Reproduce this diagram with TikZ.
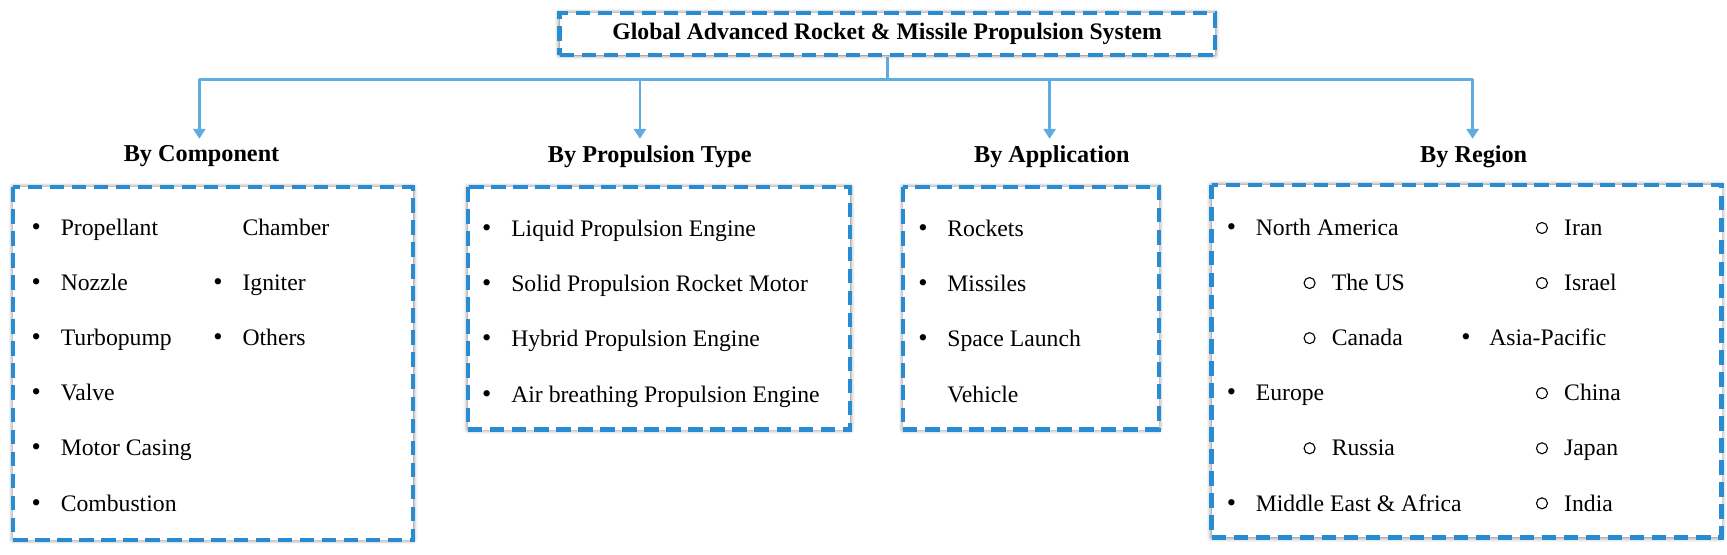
\documentclass[tikz,border=0pt]{standalone}
\usepackage{fontspec}
\setmainfont{Liberation Serif}
\usetikzlibrary{shadows.blur,arrows.meta}
\definecolor{dblue}{RGB}{40,140,210}
\definecolor{lblue}{RGB}{95,172,225}
\tikzset{
 dbox/.style={draw=dblue,line width=3.8pt,dash pattern=on 13pt off 7pt,fill=white,
   blur shadow={shadow xshift=0pt,shadow yshift=0pt,shadow blur radius=4pt,shadow opacity=60}},
 conn/.style={lblue,line width=2.5pt},
 arr/.style={conn,-{Triangle[length=9pt,width=11pt]}},
 head/.style={font=\fontsize{22}{24}\selectfont\bfseries,anchor=center},
 itm/.style={font=\fontsize{21.5}{24}\selectfont,anchor=base west,inner sep=0pt},
 bul/.style={font=\fontsize{24}{26}\selectfont,anchor=base},
}
\newcommand{\bu}{\textbullet}
\newcommand{\ci}{\raisebox{1.5pt}{\tikz\draw[line width=1pt] (0,0) circle (5pt);}}
\begin{document}
\begin{tikzpicture}[x=1pt,y=-1pt]
\useasboundingbox (0,0) rectangle (1568,503);
\node[dbox,minimum width=595pt,minimum height=38pt,font=\fontsize{21.5}{23}\selectfont\bfseries] (t) at (805.5,31) {Global Advanced Rocket \& Missile Propulsion System};
\coordinate (j) at (805.5,72);
\coordinate (a1) at (181,72); \coordinate (a2) at (581,72); \coordinate (a3) at (953,72); \coordinate (a4) at (1337,72);
\draw[conn] (t.south) -- (j);
\draw[conn] (a1) -- (a4);
\node[head] (h1) at (183,142) {By Component};
\node[head] (h2) at (590,142) {By Propulsion Type};
\node[head] (h3) at (955,142) {By Application};
\node[head] (h4) at (1338,142) {By Region};
\coordinate (e1) at (181,126); \coordinate (e2) at (581,126); \coordinate (e3) at (953,126); \coordinate (e4) at (1337,126);
\foreach \i in {1,2,3,4} \draw[arr] (a\i) -- (e\i);
\draw[dbox] (12,170) rectangle (375,490);
\draw[dbox] (425,170) rectangle (772,390);
\draw[dbox] (820,170) rectangle (1052,390);
\draw[dbox] (1100,168) rectangle (1563,488);
% box 1
\foreach \t [count=\k] in {Propellant,Nozzle,Turbopump,Valve,Motor Casing,Combustion}{
 \node[bul] at (33,{164+50*\k}) {\bu};
 \node[itm] at (55,{164+50*\k}) {\t};}
\node[itm] at (220,214) {Chamber};
\node[bul] at (198,264) {\bu}; \node[itm] at (220,264) {Igniter};
\node[bul] at (198,314) {\bu}; \node[itm] at (220,314) {Others};
% box 2
\foreach \t [count=\k] in {Liquid Propulsion Engine,Solid Propulsion Rocket Motor,Hybrid Propulsion Engine,Air breathing Propulsion Engine}{
 \node[bul] at (442,{165+50*\k}) {\bu};
 \node[itm] at (464,{165+50*\k}) {\t};}
% box 3
\foreach \t [count=\k] in {Rockets,Missiles,Space Launch}{
 \node[bul] at (838,{165+50*\k}) {\bu};
 \node[itm] at (860,{165+50*\k}) {\t};}
\node[itm] at (860,365) {Vehicle};
% box 4
\node[bul] at (1118,214) {\bu}; \node[itm] at (1140,214) {North America};
\node[bul] at (1189,264) {\ci}; \node[itm] at (1209,264) {The US};
\node[bul] at (1189,314) {\ci}; \node[itm] at (1209,314) {Canada};
\node[bul] at (1118,364) {\bu}; \node[itm] at (1140,364) {Europe};
\node[bul] at (1189,414) {\ci}; \node[itm] at (1209,414) {Russia};
\node[bul] at (1118,464) {\bu}; \node[itm] at (1140,464) {Middle East \& Africa};
\node[bul] at (1400,214) {\ci}; \node[itm] at (1420,214) {Iran};
\node[bul] at (1400,264) {\ci}; \node[itm] at (1420,264) {Israel};
\node[bul] at (1331,314) {\bu}; \node[itm] at (1352,314) {Asia-Pacific};
\node[bul] at (1400,364) {\ci}; \node[itm] at (1420,364) {China};
\node[bul] at (1400,414) {\ci}; \node[itm] at (1420,414) {Japan};
\node[bul] at (1400,464) {\ci}; \node[itm] at (1420,464) {India};
\end{tikzpicture}
\end{document}
